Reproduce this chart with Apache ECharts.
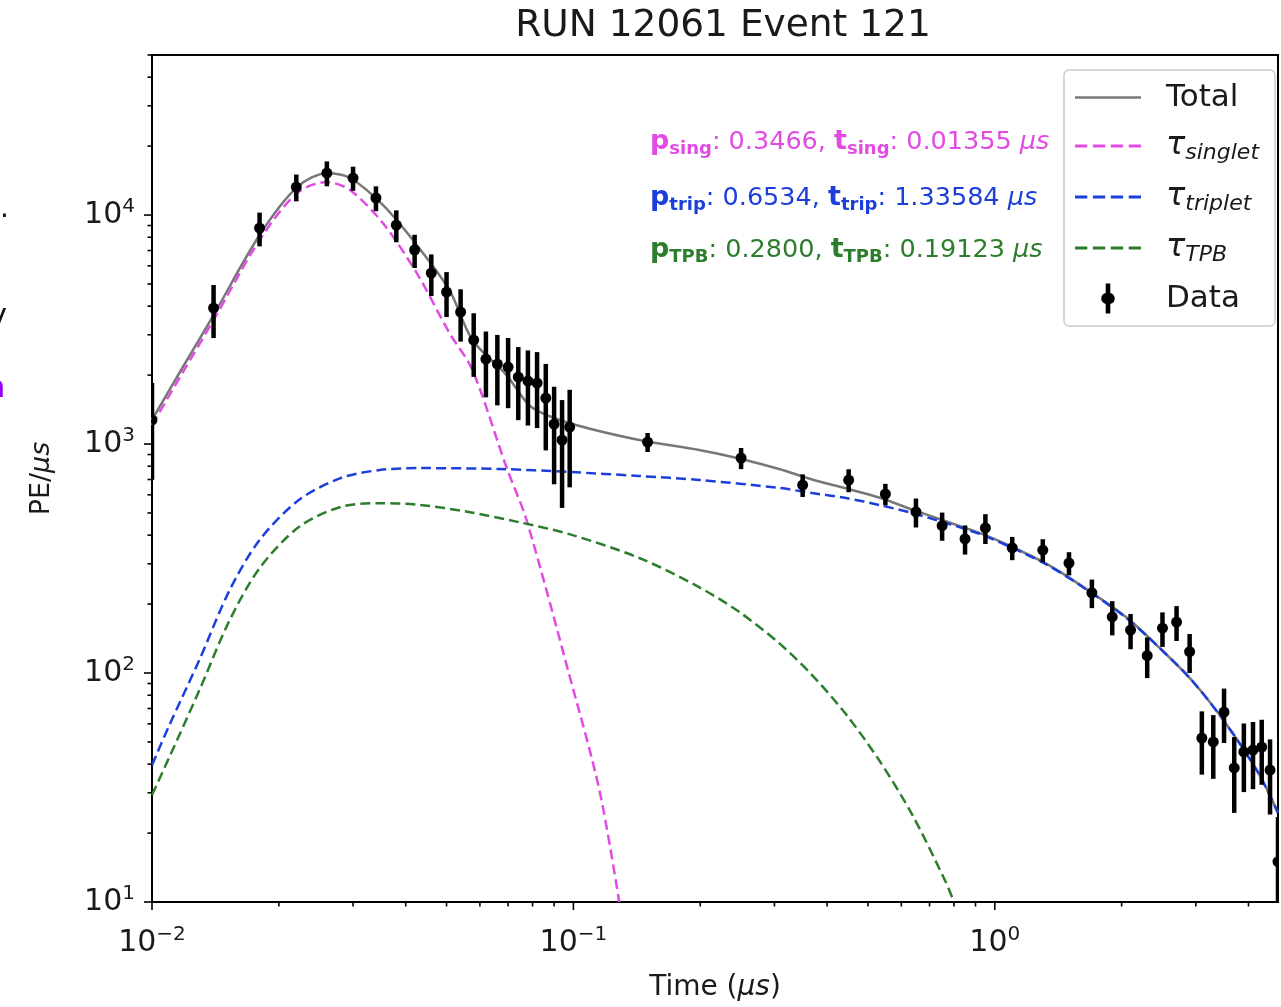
<!DOCTYPE html>
<html><head><meta charset="utf-8">
<script src="https://cdn.jsdelivr.net/npm/echarts@6/dist/echarts.min.js"></script>
<style>html,body{margin:0;padding:0;background:#fff}#c{width:1281px;height:1007px}</style>
</head><body><div id="c"></div><script>
// ---- data ----
const dataTime = [0.010,0.014,0.018,0.022,0.026,0.030,0.034,0.038,0.042,0.046,0.050,0.054,0.058,0.062,0.066,0.070,0.074,0.078,0.082,0.086,0.090,0.094,0.098,
  0.15,0.25,0.35,0.45,0.55,0.65,0.75,0.85,0.95,
  1.1,1.3,1.5,1.7,1.9,2.1,2.3,2.5,2.7,2.9,3.1,3.3,3.5,3.7,3.9,4.1,4.3,4.5,4.7];
const dataPE = [1273,3925,8774,13250,15250,14510,11870,9044,7036,5581,4610,3771,2845,2350,2235,2169,1961,1884,1847,1588,1223,1041,1186,
  1020,869,662,696,605,505,440,385,430,
  352,344,302,224,176,154,119,157,167,124,52,50,67.5,38.5,45.2,46.1,47.5,37.7,15];
const dataErr = [575,1022,1475,1775,1900,1750,1475,1440,1165,1150,1025,970,880,750,760,735,690,680,673,650,556,515,539,
  97,92,75,80,65,73,62,56,64,
  41,40,35,32,30,27,24,27,29,24,16,15.5,18,14,15,15,15,13.6,8.5];

const totalT = [0.0100,0.0118,0.0140,0.0180,0.0221,0.0260,0.0295,0.0353,0.0425,0.0508,0.0576,0.0694,0.0795,0.0978,0.1434,0.1988,0.2473,0.3077,0.3684,0.4436,0.5311,0.6358,0.7654,0.9165,1.097,1.321,1.581,2.044,2.447,2.930,3.527,4.222,4.70];
const totalV = [1274,2148,3656,8180,13240,15240,14520,11070,7400,4700,2845,2000,1452,1236,1041,942,865,778,700,640,584,518,460,410,356,301,245,176,130,93.2,60.5,36.6,24.5];

const singletT = [0.0100,0.0118,0.0140,0.0180,0.0221,0.0260,0.0295,0.0353,0.0425,0.0508,0.0576,0.0694,0.0774,0.0978,0.1152,0.1285];
const singletV = [1210,2040,3480,7780,12480,13930,12860,9230,5580,3054,2105,790,466,98,31,10];

const tripletT = [0.0100,0.0110,0.01295,0.01528,0.0180,0.0223,0.0280,0.0347,0.0433,0.0668,0.0978,0.1434,0.1988,0.3077,0.3684,0.4436,0.5311,0.6358,0.7654,0.9165,1.097,1.321,1.581,2.044,2.447,2.930,3.527,4.222,4.70];
const tripletV = [39.6,59.3,114,230,381,569,710,770,785,778,755,725,697,643,611,581,542,500,452,406,353,299,244,175,130,93.2,60.5,36.6,24.5];

const tpbT = [0.0100,0.0110,0.01295,0.01528,0.0180,0.0223,0.0280,0.0347,0.0433,0.0564,0.0742,0.0978,0.1434,0.1988,0.2473,0.3077,0.3684,0.4436,0.5311,0.6358,0.7654,0.80];
const tpbV = [29.3,43,84,170,287,434,531,552,542,505,456,404,318,237,185,135,98,66,41.7,24.2,12.2,10];

const xMajorTicks = [0.01,0.1,1];
const xMinorTicks = [0.02,0.03,0.04,0.05,0.06,0.07,0.08,0.09,0.2,0.3,0.4,0.5,0.6,0.7,0.8,0.9,2,3,4];
const yMajorTicks = [10,100,1000,10000];
const yMinorTicks = [20,30,40,50,60,70,80,90,200,300,400,500,600,700,800,900,2000,3000,4000,5000,6000,7000,8000,9000,20000,30000,40000,50000];

const titleText = 'RUN 12061 Event 121';
const X_MIN = 0.01, X_MAX = 4.7, Y_MIN = 10, Y_MAX = 50000;

// ---- styles ----
const FF = 'DejaVu Sans';
const C_TOTAL = '#777777', C_SING = '#e14be3', C_TRIP = '#1c3fdc', C_TPB = '#2c7d2c';
const ICON_SOLID = 'path://M0,0L66,0L66,2.6L0,2.6Z';
const ICON_DASH = 'path://M0,0h12.3v3h-12.3z M17.9,0h12.3v3h-12.3z M35.8,0h12.3v3h-12.3z M53.7,0h12.3v3h-12.3z';
const ICON_DATA = 'path://M2.7,0L7.3,0L7.3,9.6A5.5,5.5 0 0,1 7.3,20.4L7.3,30L2.7,30L2.7,20.4A5.5,5.5 0 0,1 2.7,9.6Z';

function zip(a, b) { return a.map((v, i) => [v, b[i]]); }
function powLabel(v) {
  const e = Math.round(Math.log10(v));
  if (Math.abs(v / Math.pow(10, e) - 1) > 1e-6) return '';
  return '{b|10}{s|' + (e < 0 ? '\u2212' + (-e) : String(e)) + '}';
}
const labelRich = {
  b: {fontSize: 30, fontFamily: FF, color: '#1a1a1a', lineHeight: 36},
  s: {fontSize: 20, fontFamily: FF, color: '#1a1a1a', verticalAlign: 'top', lineHeight: 19}
};
function tickSeries(vals, isX, len) {
  return {
    type: 'custom', silent: true, clip: false, z: 6,
    data: vals.map(v => isX ? [v, Y_MIN] : [X_MIN, v]),
    renderItem: (params, api) => {
      const p = api.coord([api.value(0), api.value(1)]);
      const shape = isX ? {x1: p[0], y1: p[1], x2: p[0], y2: p[1] + len}
                        : {x1: p[0], y1: p[1], x2: p[0] - len, y2: p[1]};
      return {type: 'line', shape: shape, style: {stroke: '#000', lineWidth: 1.6}};
    }
  };
}
function annoRich(c) {
  return {
    b: {fontFamily: FF, fontSize: 27, fontWeight: 'bold', fill: c, lineHeight: 32},
    bs: {fontFamily: FF, fontSize: 18, fontWeight: 'bold', fill: c, verticalAlign: 'bottom', lineHeight: 23},
    r: {fontFamily: FF, fontSize: 25.5, fill: c, lineHeight: 32},
    m: {fontFamily: FF, fontSize: 25.5, fontStyle: 'italic', fill: c, lineHeight: 32}
  };
}

const chart = echarts.init(document.getElementById('c'));
const option = {
  animation: false,
  backgroundColor: '#fff',
  title: {text: titleText, left: 718, top: 2, textAlign: 'center',
    textStyle: {fontFamily: FF, fontSize: 37.5, fontWeight: 'normal', color: '#1a1a1a'}},
  grid: {left: 152, top: 55, right: 1, bottom: 105, show: true, borderColor: '#000', borderWidth: 2, backgroundColor: 'transparent'},
  xAxis: {type: 'log', logBase: 10, min: X_MIN, max: X_MAX,
    axisLine: {show: false}, axisTick: {show: false}, splitLine: {show: false}, minorTick: {show: false},
    axisLabel: {formatter: powLabel, rich: labelRich, margin: 23, showMinLabel: true, showMaxLabel: true, hideOverlap: false},
    name: 'Time ({i|μs})', nameLocation: 'middle', nameGap: 72,
    nameTextStyle: {fontFamily: FF, fontSize: 28, color: '#1a1a1a',
      rich: {i: {fontFamily: FF, fontSize: 28, fontStyle: 'italic', color: '#1a1a1a'}}}
  },
  yAxis: {type: 'log', logBase: 10, min: Y_MIN, max: Y_MAX,
    axisLine: {show: false}, axisTick: {show: false}, splitLine: {show: false}, minorTick: {show: false},
    axisLabel: {formatter: powLabel, rich: labelRich, margin: 17, showMinLabel: true, showMaxLabel: true, hideOverlap: false},
    name: 'PE/{i|μs}', nameLocation: 'middle', nameGap: 97,
    nameTextStyle: {fontFamily: FF, fontSize: 27, color: '#1a1a1a',
      rich: {i: {fontFamily: FF, fontSize: 27, fontStyle: 'italic', color: '#1a1a1a'}}}
  },
  legend: {
    orient: 'vertical', left: 1064, top: 70, padding: [12, 16, 12, 11],
    backgroundColor: 'rgba(255,255,255,0.85)', borderColor: '#cccccc', borderWidth: 1.5, borderRadius: 5,
    itemWidth: 66, itemHeight: 30, itemGap: 17, selectedMode: false, symbolKeepAspect: true,
    data: [
      {name: 'Total', icon: ICON_SOLID, itemStyle: {color: C_TOTAL}},
      {name: 'singlet', icon: ICON_DASH, itemStyle: {color: C_SING}},
      {name: 'triplet', icon: ICON_DASH, itemStyle: {color: C_TRIP}},
      {name: 'TPB', icon: ICON_DASH, itemStyle: {color: C_TPB}},
      {name: 'Data', icon: ICON_DATA, itemStyle: {color: '#000'}}
    ],
    formatter: n => (n === 'Total' || n === 'Data') ? '{n|' + n + '}' : '{t|τ}{i|' + n + '}',
    textStyle: {padding: [0, 0, 0, 20], fontFamily: FF, color: '#1a1a1a',
      rich: {
        n: {fontFamily: FF, fontSize: 31, lineHeight: 36, color: '#1a1a1a'},
        t: {fontFamily: FF, fontSize: 32, fontStyle: 'italic', lineHeight: 36, color: '#1a1a1a'},
        i: {fontFamily: FF, fontSize: 22, fontStyle: 'italic', lineHeight: 26, verticalAlign: 'bottom', color: '#1a1a1a'}
      }}
  },
  graphic: [
    {type: 'text', x: 650, y: 142, style: {
      text: '{b|p}{bs|sing}{r|: 0.3466, }{b|t}{bs|sing}{r|: 0.01355 }{m|μs}', verticalAlign: 'middle', fill: C_SING, rich: annoRich(C_SING)}},
    {type: 'text', x: 650, y: 198, style: {
      text: '{b|p}{bs|trip}{r|: 0.6534, }{b|t}{bs|trip}{r|: 1.33584 }{m|μs}', verticalAlign: 'middle', fill: C_TRIP, rich: annoRich(C_TRIP)}},
    {type: 'text', x: 650, y: 250, style: {
      text: '{b|p}{bs|TPB}{r|: 0.2800, }{b|t}{bs|TPB}{r|: 0.19123 }{m|μs}', verticalAlign: 'middle', fill: C_TPB, rich: annoRich(C_TPB)}},
    // cropped fragments of neighbouring text at the left edge
    {type: 'text', x: 9, y: 210, style: {text: '.', align: 'right', verticalAlign: 'middle', fontFamily: FF, fontSize: 28, fill: '#111'}},
    {type: 'text', x: 7, y: 317, style: {text: 'y', align: 'right', verticalAlign: 'middle', fontFamily: FF, fontSize: 30, fill: '#111'}},
    {type: 'text', x: 5, y: 389, style: {text: 'n', align: 'right', verticalAlign: 'middle', fontFamily: FF, fontSize: 30, fontWeight: 'bold', fill: '#9a00ff'}}
  ],
  series: [
    {type: 'line', name: 'Total', data: zip(totalT, totalV), symbol: 'none', smooth: 0.3,
      lineStyle: {color: C_TOTAL, width: 2.5}, itemStyle: {color: C_TOTAL}, z: 2},
    {type: 'line', name: 'singlet', data: zip(singletT, singletV), symbol: 'none', smooth: 0.3,
      lineStyle: {color: C_SING, width: 2.5, type: [10, 5]}, itemStyle: {color: C_SING}, z: 3},
    {type: 'line', name: 'triplet', data: zip(tripletT, tripletV), symbol: 'none', smooth: 0.3,
      lineStyle: {color: C_TRIP, width: 2.5, type: [10, 5]}, itemStyle: {color: C_TRIP}, z: 3},
    {type: 'line', name: 'TPB', data: zip(tpbT, tpbV), symbol: 'none', smooth: 0.3,
      lineStyle: {color: C_TPB, width: 2.5, type: [10, 5]}, itemStyle: {color: C_TPB}, z: 3},
    {type: 'custom', name: 'Data', clip: true, z: 4,
      itemStyle: {color: '#000'},
      data: dataTime.map((t, i) => [t, dataPE[i], dataErr[i]]),
      encode: {x: 0, y: 1},
      renderItem: (params, api) => {
        const t = api.value(0), v = api.value(1), e = api.value(2);
        const lo = Math.max(v - e, 0.001);
        const pHi = api.coord([t, v + e]);
        const pLo = api.coord([t, lo]);
        const pc = api.coord([t, v]);
        return {type: 'group', children: [
          {type: 'line', shape: {x1: pHi[0], y1: pHi[1], x2: pLo[0], y2: pLo[1]}, style: {stroke: '#000', lineWidth: 4.5}},
          {type: 'circle', shape: {cx: pc[0], cy: pc[1], r: 5.5}, style: {fill: '#000'}}
        ]};
      }},
    tickSeries(xMajorTicks, true, 8),
    tickSeries(xMinorTicks, true, 4.5),
    tickSeries(yMajorTicks, false, 8),
    tickSeries(yMinorTicks, false, 4.5)
  ]
};
chart.setOption(option);
</script></body></html>
